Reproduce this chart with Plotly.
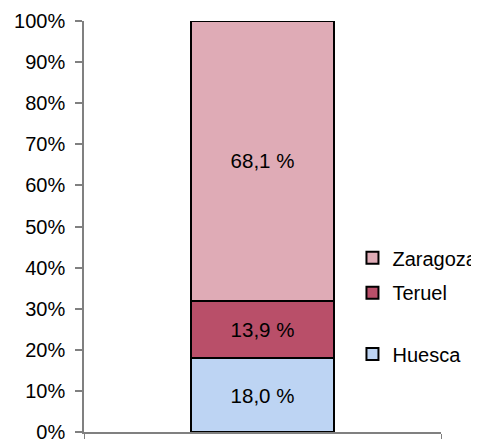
import plotly.graph_objects as go

categories = [""]
provinces = ["Huesca", "Teruel", "Zaragoza"]
values = [18.0, 13.9, 68.1]
colors = ["#BDD4F3", "#B94F69", "#DFABB6"]
y_ticks = list(range(0, 101, 10))
y_tick_labels = [f"{t}%" for t in y_ticks]

legend_names = ["legend3", "legend2", "legend"]
legend_y = [0.19, 0.339, 0.424]

fig = go.Figure()
for name, val, col, lg in zip(provinces, values, colors, legend_names):
    fig.add_trace(go.Bar(
        x=categories, y=[val], name=name,
        marker=dict(color=col, line=dict(color="black", width=2)),
        text=[f"{val:.1f} %".replace(".", ",")],
        textposition="inside", insidetextanchor="middle",
        textfont=dict(color="black", size=20.5, family="Liberation Sans, Arial"),
        width=0.4, legend=lg, hoverinfo="skip",
    ))

leg_common = dict(font=dict(size=20, family="Liberation Sans, Arial", color="black"),
                  xanchor="left", yanchor="middle", x=0.752, bgcolor="rgba(0,0,0,0)",
                  itemwidth=30)
# page body has an 8px margin; figure sized/margined to compensate
fig.update_layout(
    barmode="stack",
    width=471, height=431,
    margin=dict(l=76, r=38, t=13, b=7, autoexpand=False),
    paper_bgcolor="white", plot_bgcolor="white",
    font=dict(family="Liberation Sans, Arial", size=20, color="black"),
    showlegend=True,
    legend=dict(y=legend_y[2], **leg_common),
    legend2=dict(y=legend_y[1], **leg_common),
    legend3=dict(y=legend_y[0], **leg_common),
    xaxis=dict(type="category", range=[-0.5, 0.5], showticklabels=False,
               showline=True, linecolor="#808080", linewidth=2,
               ticks="outside", tickson="boundaries", ticklen=5, tickcolor="#808080",
               showgrid=False, zeroline=False, automargin=False),
    yaxis=dict(range=[0, 100], tickvals=y_ticks, ticktext=y_tick_labels,
               showline=True, linecolor="#808080", linewidth=1.5,
               ticks="outside", ticklen=7, tickcolor="#808080", tickwidth=1.5,
               showgrid=False, zeroline=False, automargin=False,
               ticklabelstandoff=6, ticklabeloverflow="allow",
               tickfont=dict(size=20, color="black")),
)

fig.write_html("out.html")
